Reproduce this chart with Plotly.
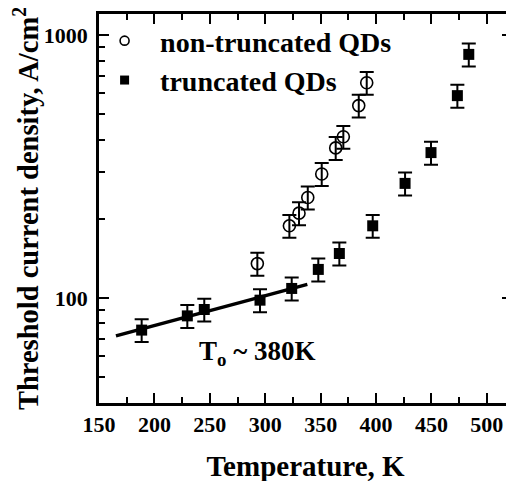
import plotly.graph_objects as go

# Non-truncated QDs (open circles)
nt_T = [292.9, 321.8, 330.5, 338.4, 351.0, 363.6, 370.5, 384.4, 391.6]
nt_J = [135, 188, 210, 241, 296, 372, 410, 539, 658]

# Truncated QDs (filled squares)
tr_T = [188.5, 229.7, 245.0, 295.3, 323.9, 347.9, 366.9, 397.0, 426.2, 449.6, 473.4, 483.7]
tr_J = [75.4, 85.4, 90.3, 98.0, 108.6, 128.3, 147.5, 188, 272.6, 357, 588, 844]

# Fitted line (T0 ~ 380K) endpoints
fit_T = [165.3, 338.0]
fit_J = [71.7, 112.5]

err_pct = 10

x_major = [150, 200, 250, 300, 350, 400, 450, 500]
y_major = [100, 1000]
y_minor = [40, 50, 60, 70, 80, 90, 200, 300, 400, 500, 600, 700, 800, 900]

FONT = "Liberation Serif"

fig = go.Figure()

fig.add_trace(go.Scatter(
    x=fit_T, y=fit_J, mode="lines",
    line=dict(color="black", width=3.5), showlegend=False, hoverinfo="skip"))

fig.add_trace(go.Scatter(
    x=nt_T, y=nt_J, mode="markers", showlegend=False,
    marker=dict(symbol="circle-open", size=12, color="black", line=dict(width=1.6, color="black")),
    error_y=dict(type="percent", value=err_pct, color="black", thickness=2, width=7)))

fig.add_trace(go.Scatter(
    x=tr_T, y=tr_J, mode="markers", showlegend=False,
    marker=dict(symbol="square", size=11, color="black"),
    error_y=dict(type="percent", value=err_pct, color="black", thickness=2, width=7)))

# legend entries
fig.add_trace(go.Scatter(
    x=[None], y=[None], mode="markers", name="non-truncated QDs",
    marker=dict(symbol="circle-open", size=9, color="black", line=dict(width=1.6, color="black"))))
fig.add_trace(go.Scatter(
    x=[None], y=[None], mode="markers", name="truncated QDs",
    marker=dict(symbol="square", size=9, color="black")))

axis_common = dict(
    showline=True, linecolor="black", linewidth=2.5, mirror="ticks",
    ticks="inside", ticklen=10, tickwidth=2, tickcolor="black",
    showgrid=False, zeroline=False, automargin=False,
    tickfont=dict(family=FONT, size=22, color="black", weight="bold"),
)

# the page body has an 8px margin, so margins are offset accordingly
fig.update_layout(
    width=514, height=481,
    margin=dict(l=91, r=10, t=6, b=86),
    paper_bgcolor="white", plot_bgcolor="white",
    font=dict(family=FONT, color="black", weight="bold"),
    xaxis=dict(
        range=[150, 522.7], tickvals=x_major,
        minor=dict(dtick=25, tick0=150, ticks="inside", ticklen=6, tickwidth=2, tickcolor="black"),
        title=dict(text="Temperature, K", font=dict(family=FONT, size=29, weight="bold"), standoff=20),
        **axis_common),
    yaxis=dict(
        type="log", range=[1.6, 3.08], tickvals=y_major, ticktext=["100", "1000"],
        ticklabelstandoff=4,
        minor=dict(tickvals=y_minor, ticks="inside", ticklen=6, tickwidth=2, tickcolor="black"),
        title=dict(text="Threshold current density, A/cm<sup>2</sup>", font=dict(family=FONT, size=28.5, weight="bold"), standoff=12),
        **axis_common),
    legend=dict(
        x=-0.024, y=0.995, xanchor="left", yanchor="top",
        bgcolor="rgba(0,0,0,0)", font=dict(family=FONT, size=28, color="black", weight="bold"),
        itemwidth=61, tracegroupgap=0),
)

fig.add_annotation(
    x=238.4, y=1.79, xref="x", yref="y", xanchor="left", yanchor="middle",
    text="T<sub>o</sub> ~ 380K", showarrow=False,
    font=dict(family=FONT, size=27, color="black", weight="bold"))

fig.write_html("out.html")
